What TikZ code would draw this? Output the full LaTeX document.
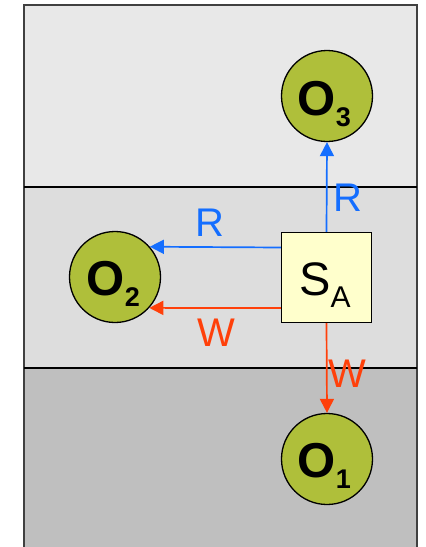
\documentclass[tikz,border=0pt]{standalone}
\usepackage{fontspec}
\setmainfont{Liberation Sans}
\usetikzlibrary{arrows.meta}
\definecolor{bgtop}{RGB}{232,232,232}
\definecolor{bgmid}{RGB}{221,221,221}
\definecolor{bgbot}{RGB}{191,191,191}
\definecolor{objgreen}{RGB}{175,191,58}
\definecolor{subjfill}{RGB}{255,255,204}
\definecolor{rblue}{RGB}{20,110,255}
\definecolor{wred}{RGB}{255,64,10}
\tikzset{
  obj/.style={circle, draw=black, line width=1.3pt, fill=objgreen, minimum size=91pt, inner sep=0pt},
  subj/.style={rectangle, draw=black, line width=1.3pt, fill=subjfill, minimum size=90pt, inner sep=0pt},
  olabel/.style={inner sep=0pt, anchor=base west, font=\bfseries\fontsize{49}{49}\selectfont},
  slabel/.style={inner sep=0pt, anchor=base west, font=\fontsize{47}{47}\selectfont},
  readarrow/.style={draw=rblue, line width=1.7pt, -{Triangle[length=14pt,width=14pt]}},
  writearrow/.style={draw=wred, line width=1.7pt, -{Triangle[length=14pt,width=14pt]}},
  rlabel/.style={inner sep=0pt, text=rblue, font=\fontsize{40}{40}\selectfont},
  wlabel/.style={inner sep=0pt, text=wred, font=\fontsize{40}{40}\selectfont}
}
\newcommand{\osub}[1]{\raisebox{-11pt}{\bfseries\fontsize{27}{27}\selectfont #1}}
\newcommand{\ssub}[1]{\raisebox{-12pt}{\fontsize{30}{30}\selectfont #1}}
\begin{document}
\begin{tikzpicture}[x=1pt,y=-1pt]
\clip (0,0) rectangle (426,547);
\fill[bgtop] (24,5) rectangle (417,187);
\fill[bgmid] (24,187) rectangle (417,368);
\fill[bgbot] (24,368) rectangle (417,560);
\draw[line width=1.2pt, black!75] (24,560) -- (24,5) -- (417,5) -- (417,560);
\draw[line width=1.3pt, black] (24,187) -- (417,187);
\draw[line width=1.3pt, black] (24,368) -- (417,368);

\node[obj] (o3) at (327,96) {};
\node[obj] (o2) at (115,277) {};
\node[obj] (o1) at (327,459) {};
\node[subj] (sa) at (326.5,277.5) {};

\node[olabel] (o3t) at (297.5,115) {O\osub{3}};
\node[olabel] (o2t) at (86.5,295) {O\osub{2}};
\node[olabel] (o1t) at (297.5,477) {O\osub{1}};
\node[slabel] (sat) at (299,295) {S\ssub{A}};

\draw[readarrow] (sa.north) -- (o3.south);
\draw[readarrow] ([yshift=30pt]sa.west) -- (o2.41.5);
\draw[writearrow] ([yshift=-30.5pt]sa.west) -- (o2.-42);
\draw[writearrow] (sa.south) -- (o1.north);

\node[rlabel] (r1) at (348,198) {R};
\node[rlabel] (r2) at (210,223) {R};
\node[wlabel] (w1) at (216,333) {W};
\node[wlabel] (w2) at (347,374) {W};
\end{tikzpicture}
\end{document}
